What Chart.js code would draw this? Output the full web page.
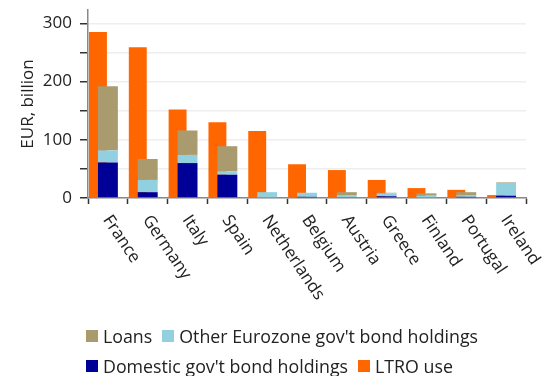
<!DOCTYPE html>
<html>
<head>
<meta charset="utf-8">
<script src="https://cdn.jsdelivr.net/npm/chart.js@4/dist/chart.umd.min.js"></script>
<style>
    body { margin: 0; background: #fff; }
    #wrap { position: relative; width: 552px; height: 376px; }
    #legend {
        position: absolute; left: 86px; top: 321px; width: 460px;
        display: flex; flex-wrap: wrap;
        font-family: "Open Sans", sans-serif; font-size: 17.8px; color: #222;
        line-height: 30px;
    }
    .item { display: flex; align-items: center; margin-right: 10px; white-space: nowrap; }
    .box { width: 12px; height: 12px; margin-right: 5px; }
</style>
</head>
<body>
<div id="wrap">
    <canvas id="chart" width="552" height="376"></canvas>
    <div id="legend"></div>
</div>
<script>
const countries = ["France", "Germany", "Italy", "Spain", "Netherlands", "Belgium", "Austria", "Greece", "Finland", "Portugal", "Ireland"];
const domestic = [61, 10, 60, 40, 0, 2, 1, 3, 0, 2, 4];
const otherEz = [21, 21, 14, 6, 10, 7, 4, 5, 4, 3, 22];
const loans = [110, 36, 42, 43, 0, 0, 5, 1, 4, 5, 1];
const ltro = [285, 259, 152, 130, 115, 58, 48, 31, 17, 14, 5];
const yTicks = [0, 100, 200, 300];

const FONT = "'Open Sans', sans-serif";

// half-width slots so the LTRO bar sits in the left half of each country
const halfSlots = countries.flatMap((c) => [c, ""]);

// x labels rotated clockwise, drawn from the category scale
const rotatedLabels = {
    id: "rotatedLabels",
    afterDraw(chart) {
        const ctx = chart.ctx;
        const xs = chart.scales.x;
        ctx.save();
        ctx.font = "17px " + FONT;
        ctx.fillStyle = "#222";
        ctx.textAlign = "left";
        ctx.textBaseline = "middle";
        countries.forEach((name, i) => {
            ctx.save();
            ctx.translate(xs.getPixelForValue(i) - 1.5, chart.chartArea.bottom + 19);
            ctx.rotate(56 * Math.PI / 180);
            ctx.fillText(name, 0, 0);
            ctx.restore();
        });
        ctx.restore();
    }
};

const chart = new Chart(document.getElementById("chart"), {
    type: "bar",
    data: {
        labels: countries,
        datasets: [
            { label: "Domestic gov't bond holdings", data: domestic, backgroundColor: "#000096", stack: "s" },
            { label: "Other Eurozone gov't bond holdings", data: otherEz, backgroundColor: "#92d0e0", stack: "s" },
            { label: "Loans", data: loans, backgroundColor: "#aa9b6e", stack: "s" },
            {
                label: "LTRO use",
                data: ltro.map((v, i) => ({ x: countries[i], y: v })),
                backgroundColor: "#ff6600",
                stack: "ltro",
                xAxisID: "x2",
                barPercentage: 0.9
            }
        ]
    },
    options: {
        responsive: false,
        animation: false,
        layout: { padding: { left: 0, right: 26, top: 10, bottom: 172 } },
        datasets: { bar: { grouped: false, barPercentage: 0.5, categoryPercentage: 1 } },
        plugins: { legend: { display: false }, tooltip: { enabled: false } },
        scales: {
            x: {
                offset: true,
                ticks: { display: false },
                grid: {
                    offset: true,
                    drawOnChartArea: false,
                    drawTicks: true,
                    tickLength: 6,
                    tickWidth: 1.5,
                    tickColor: (c) => c.index >= countries.length ? "rgba(0,0,0,0)" : "#333"
                },
                border: { color: "#888", width: 1.5 }
            },
            x2: {
                type: "category",
                labels: halfSlots,
                position: "bottom",
                offset: true,
                ticks: { display: false },
                grid: { display: false },
                border: { display: false },
                afterFit: (s) => { s.height = 0; }
            },
            y: {
                stacked: true,
                min: 0,
                max: 323,
                ticks: {
                    stepSize: 50,
                    includeBounds: false,
                    padding: 8,
                    color: "#222",
                    font: { family: FONT, size: 17 },
                    callback: (v) => yTicks.includes(v) ? v : ""
                },
                grid: { color: "#eeeeee", lineWidth: 1.5, tickLength: 8, tickColor: "#333", tickWidth: 1.5 },
                border: { color: "#888", width: 1.5 },
                title: {
                    display: true,
                    text: "EUR, billion",
                    color: "#222",
                    font: { family: FONT, size: 17 },
                    padding: { top: 18, bottom: 0 }
                },
                afterFit: (s) => { s.width = 88; s.paddingTop = 0; s.paddingBottom = 0; }
            }
        }
    },
    plugins: [rotatedLabels]
});

// legend in the reference order
const legendOrder = [2, 1, 0, 3];
const legend = document.getElementById("legend");
legendOrder.forEach((k) => {
    const ds = chart.data.datasets[k];
    const item = document.createElement("div");
    item.className = "item";
    const box = document.createElement("span");
    box.className = "box";
    box.style.background = ds.backgroundColor;
    item.appendChild(box);
    item.appendChild(document.createTextNode(ds.label));
    legend.appendChild(item);
});
</script>
</body>
</html>
